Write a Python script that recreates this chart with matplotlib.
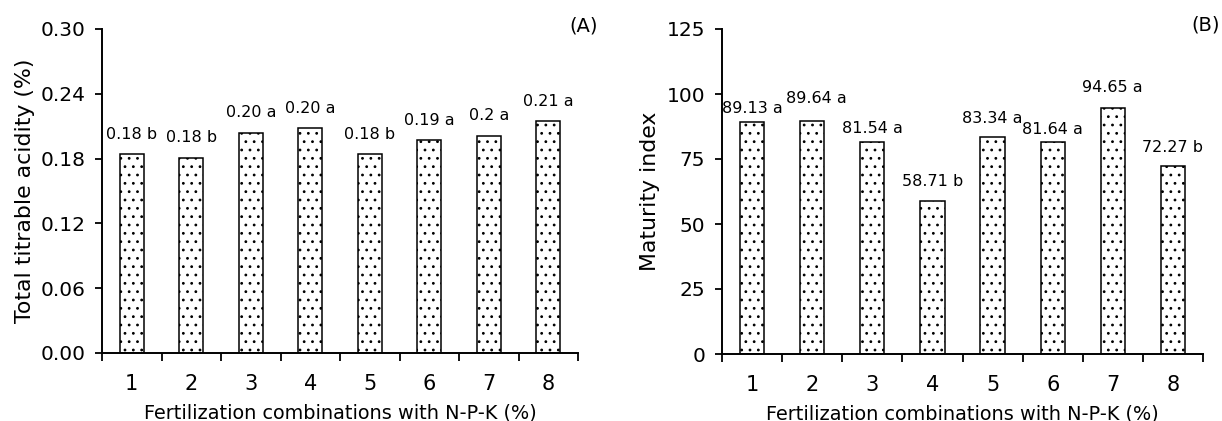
import matplotlib
matplotlib.use("Agg")
import matplotlib.pyplot as plt
import numpy as np

plt.rcParams['font.family'] = ['DejaVu Sans']
plt.rcParams['hatch.linewidth'] = 0.8

categories = ['1', '2', '3', '4', '5', '6', '7', '8']
acidity = [0.184, 0.181, 0.204, 0.208, 0.184, 0.197, 0.201, 0.215]
acidity_labels = ['0.18 b', '0.18 b', '0.20 a', '0.20 a', '0.18 b', '0.19 a', '0.2 a', '0.21 a']
maturity = [89.13, 89.64, 81.54, 58.71, 83.34, 81.64, 94.65, 72.27]
maturity_labels = ['89.13 a', '89.64 a', '81.54 a', '58.71 b', '83.34 a', '81.64 a', '94.65 a', '72.27 b']
acidity_ticks = [0.00, 0.06, 0.12, 0.18, 0.24, 0.30]
maturity_ticks = [0, 25, 50, 75, 100, 125]

# label offsets above bar tops (points)
off_a = [14.4, 14.4, 14.4, 14.4, 14.4, 14.4, 14.4, 14.0]
off_b = [10, 16, 10, 14.4, 13.7, 8.6, 14.8, 13.7]
dx_b = [0, 3, 0, 0, 0, 0, 0, 0]
dx_a = [0, 0, 0, 0, 0, 0, 0, 0]

fig = plt.figure(figsize=(12.22, 4.21), dpi=100)
axA = fig.add_axes([102 / 1222, 1 - 353 / 421, 476 / 1222, 324 / 421])
axB = fig.add_axes([722 / 1222, 1 - 354 / 421, 481 / 1222, 325 / 421])

def draw(ax, vals, labels, offs, dxs, ticks, fmt, ylabel, tag, ylab_x, tag_x, tag_y):
    x = np.arange(1, len(vals) + 1)
    ax.bar(x, vals, width=0.405, color='white', edgecolor='black',
           linewidth=1.1, hatch='..')
    for xi, v, lab, o, d in zip(x, vals, labels, offs, dxs):
        ax.annotate(lab, (xi, v), xytext=(d, o), textcoords='offset points',
                    ha='center', va='center', fontsize=11.5)
    ax.set_xlim(0.5, 8.5)
    ax.set_ylim(ticks[0], ticks[-1])
    ax.set_yticks(ticks)
    ax.set_yticklabels([fmt.format(t) for t in ticks], fontsize=14.5)
    ax.set_xticks(np.arange(0.5, 9.0, 1.0))
    ax.set_xticklabels([])
    ax.set_xticks(x, minor=True)
    ax.set_xticklabels(categories, minor=True, fontsize=15)
    ax.tick_params(axis='x', which='minor', length=0, pad=15)
    ax.tick_params(axis='x', which='major', length=6, width=1.3, direction='out')
    ax.tick_params(axis='y', length=5, width=1.3, direction='out', pad=7)
    for s in ['top', 'right']:
        ax.spines[s].set_visible(False)
    for s in ['left', 'bottom']:
        ax.spines[s].set_linewidth(1.4)
    ax.set_xlabel('Fertilization combinations with N-P-K (%)', fontsize=13.9)
    ax.xaxis.set_label_coords(0.5, -0.155)
    ax.set_ylabel(ylabel, fontsize=15.8, va='center')
    ax.yaxis.set_label_coords(ylab_x, 0.5)
    ax.text(tag_x, tag_y, tag, transform=ax.transAxes, ha='right', va='center', fontsize=14)

draw(axA, acidity, acidity_labels, off_a, dx_a, acidity_ticks, '{:.2f}',
     'Total titrable acidity (%)', '(A)', -0.162, 1.042, 1.009)
draw(axB, maturity, maturity_labels, off_b, dx_b, maturity_ticks, '{:.0f}',
     'Maturity index', '(B)', -0.15, 1.035, 1.012)

fig.savefig('out.png', dpi=100)
